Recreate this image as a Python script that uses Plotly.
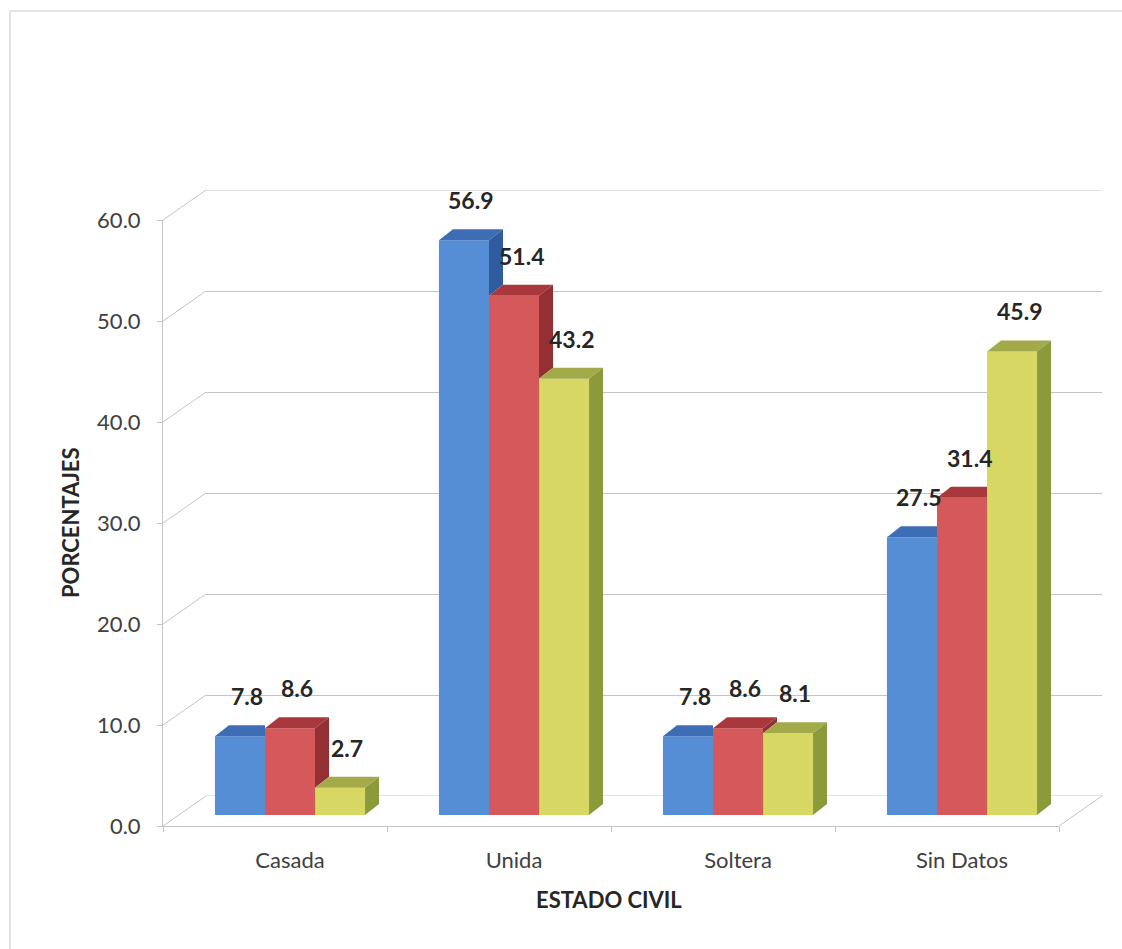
import plotly.graph_objects as go

# ---------------- data ----------------
categories = ["Casada", "Unida", "Soltera", "Sin Datos"]
serie_1 = [7.8, 56.9, 7.8, 27.5]
serie_2 = [8.6, 51.4, 8.6, 31.4]
serie_3 = [2.7, 43.2, 8.1, 45.9]
y_ticks = [0, 10, 20, 30, 40, 50, 60]
y_title = "PORCENTAJES"
x_title = "ESTADO CIVIL"

# ---------------- styles / geometry ----------------
W, H = 1122, 949
FRONT_L, PLOT_W = 163, 896
FRONT_Y0, PX_PER_UNIT = 826, 10.1
YMAX = 60
BAR_DX, BAR_DY = 15, 11      # bar plane offset from front plane (px)
BACK_DX, BACK_DY = 43, 30    # back wall offset from front plane (px)
DEPTH_DX, DEPTH_DY = 14, 11  # bar depth projection (px)
BARGAP = 0.33
GRID = "#c4c4c4"
FONT = "Lato"
front_cols = ["#558ED5", "#D5585A", "#D6D863"]
top_cols = ["#3C6DB5", "#A8383B", "#A3AA4A"]
side_cols = ["#2F5C9E", "#943033", "#8D9A3C"]
series = [serie_1, serie_2, serie_3]


def xdom(px0):
    return [px0 / W, (px0 + PLOT_W) / W]


def ydom(py0):
    return [(H - py0) / H, (H - (py0 - YMAX * PX_PER_UNIT)) / H]


fig = go.Figure()

# back wall (subplot xy) - invisible helper trace
fig.add_trace(go.Scatter(x=[0, 1], y=[0, YMAX], mode="markers",
                         marker=dict(opacity=0), hoverinfo="skip",
                         showlegend=False, xaxis="x", yaxis="y"))
# front plane (subplot x2y2)
fig.add_trace(go.Scatter(x=categories, y=[0] * len(categories), mode="markers",
                         marker=dict(opacity=0), hoverinfo="skip",
                         showlegend=False, xaxis="x2", yaxis="y2"))
# bars (subplot x3y3)
for j, s in enumerate(series):
    fig.add_trace(go.Bar(x=categories, y=s, marker=dict(color=front_cols[j], line=dict(width=0)),
                         showlegend=False, xaxis="x3", yaxis="y3", hoverinfo="skip"))

shapes = []
# back wall edge gridlines (bottom and top)
for t in (0, YMAX):
    shapes.append(dict(type="line", xref="x", yref="y", layer="below",
                       x0=0, x1=1, y0=t, y1=t, line=dict(color=GRID, width=1)))
# left wall diagonals & floor right edge
for t in y_ticks:
    yf = FRONT_Y0 - t * PX_PER_UNIT
    shapes.append(dict(type="line", xref="paper", yref="paper", layer="below",
                       x0=FRONT_L / W, y0=1 - yf / H,
                       x1=(FRONT_L + BACK_DX) / W, y1=1 - (yf - BACK_DY) / H,
                       line=dict(color=GRID, width=1)))
shapes.append(dict(type="line", xref="paper", yref="paper", layer="below",
                   x0=(FRONT_L + PLOT_W) / W, y0=1 - FRONT_Y0 / H,
                   x1=(FRONT_L + PLOT_W + BACK_DX) / W, y1=1 - (FRONT_Y0 - BACK_DY) / H,
                   line=dict(color=GRID, width=1)))
# chart border
shapes.append(dict(type="rect", xref="paper", yref="paper", layer="below",
                   x0=10 / W, y0=-0.05, x1=1.05, y1=1 - 11 / H,
                   line=dict(color="#c8c8c8", width=1)))

# 3D faces of bars
ux = DEPTH_DX / (PLOT_W / len(categories))
uy = DEPTH_DY / PX_PER_UNIT
w = (1 - BARGAP) / len(series)
for c in range(len(categories)):
    vals = [s[c] for s in series]
    for j, v in enumerate(vals):
        x0 = c + (j - len(series) / 2) * w
        x1 = x0 + w
        nxt = vals[j + 1] if j + 1 < len(vals) else None
        if nxt is not None and nxt > v:
            top = f"M {x0},{v} L {x1},{v} L {x1},{v+uy} L {x0+ux},{v+uy} Z"
        else:
            top = f"M {x0},{v} L {x1},{v} L {x1+ux},{v+uy} L {x0+ux},{v+uy} Z"
        shapes.append(dict(type="path", xref="x3", yref="y3", path=top,
                           fillcolor=top_cols[j], line=dict(width=0), layer="above"))
        if nxt is None or nxt < v:
            b = 0 if nxt is None else nxt
            side = f"M {x1},{v} L {x1+ux},{v+uy} L {x1+ux},{b+uy} L {x1},{b} Z"
            shapes.append(dict(type="path", xref="x3", yref="y3", path=side,
                               fillcolor=side_cols[j], line=dict(width=0), layer="above"))

annotations = []
for j, s in enumerate(series):
    for c, v in enumerate(s):
        xc = c + (j - len(series) / 2 + 0.5) * w + ux / 2
        annotations.append(dict(xref="x3", yref="y3", x=xc, y=v, yshift=40,
                                xanchor="center", yanchor="middle",
                                text=f"<b>{v:.1f}</b>", showarrow=False,
                                font=dict(family=FONT, size=23, color="#262626")))
annotations.append(dict(xref="paper", yref="paper", x=70 / W, y=1 - 523 / H,
                        xanchor="center", yanchor="middle",
                        text=f"<b>{y_title}</b>", textangle=-90, showarrow=False,
                        font=dict(family=FONT, size=22, color="#262626")))
annotations.append(dict(xref="paper", yref="paper", x=609 / W, y=1 - 899 / H,
                        xanchor="center", yanchor="middle",
                        text=f"<b>{x_title}</b>", showarrow=False,
                        font=dict(family=FONT, size=22, color="#262626")))

fig.update_layout(
    width=W, height=H, margin=dict(l=0, r=0, t=0, b=0, pad=0, autoexpand=False),
    paper_bgcolor="white", plot_bgcolor="rgba(0,0,0,0)",
    barmode="group", bargap=BARGAP, bargroupgap=0,
    shapes=shapes, annotations=annotations,
    font=dict(family=FONT, color="#404040"),
    xaxis=dict(domain=xdom(FRONT_L + BACK_DX), range=[0, 1], visible=False, anchor="y"),
    yaxis=dict(domain=ydom(FRONT_Y0 - BACK_DY), range=[0, YMAX], anchor="x",
               tickvals=y_ticks, showgrid=True, gridcolor=GRID, gridwidth=1,
               zeroline=False, showticklabels=False, ticks="",
               showline=False, automargin=False),
    xaxis2=dict(domain=xdom(FRONT_L), type="category", categoryarray=categories,
                range=[-0.5, len(categories) - 0.5], anchor="y2",
                showline=True, linecolor=GRID, linewidth=1, ticks="outside",
                tickson="boundaries", ticklen=5, tickcolor=GRID,
                showticklabels=False, showgrid=False, zeroline=False, automargin=False),
    yaxis2=dict(domain=ydom(FRONT_Y0), range=[0, YMAX], anchor="x2",
                tickvals=y_ticks, tickformat=".1f", showline=True, linecolor=GRID,
                linewidth=1, ticks="outside", ticklen=5, tickcolor=GRID,
                showgrid=False, zeroline=False, ticklabelstandoff=12, automargin=False,
                tickfont=dict(family=FONT, size=22, color="#404040")),
    xaxis3=dict(domain=xdom(FRONT_L + BAR_DX), type="category", categoryarray=categories,
                range=[-0.5, len(categories) - 0.5], anchor="y3",
                showline=False, ticks="", showgrid=False, zeroline=False,
                ticklabelstandoff=30, automargin=False,
                tickfont=dict(family=FONT, size=22, color="#404040")),
    yaxis3=dict(domain=ydom(FRONT_Y0 - BAR_DY), range=[0, YMAX], anchor="x3",
                visible=False, showgrid=False, automargin=False),
)

fig.write_html("out.html")
